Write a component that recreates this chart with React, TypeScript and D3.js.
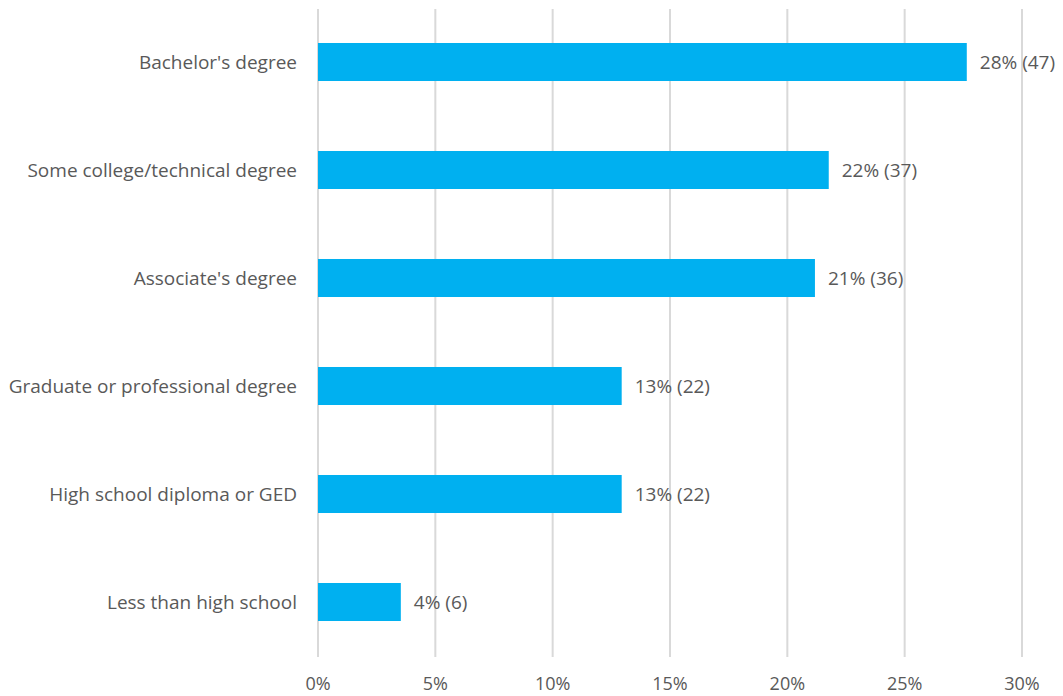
import React from "react";
import * as d3 from "d3";

const categories = [
  "Bachelor's degree",
  "Some college/technical degree",
  "Associate's degree",
  "Graduate or professional degree",
  "High school diploma or GED",
  "Less than high school",
];
const counts = [47, 37, 36, 22, 22, 6];
const total = 170;
const ticks = [0, 0.05, 0.1, 0.15, 0.2, 0.25, 0.3];

const W = 1063;
const H = 696;
const left = 318;
const right = 1022;
const top = 8;
const bottom = 656;
const font = "'Open Sans', sans-serif";
const fs = 19;

export default function App() {
  const x = d3.scaleLinear().domain([0, 0.3]).range([left, right]);
  const y = d3
    .scaleBand<string>()
    .domain(categories)
    .range([top, bottom])
    .paddingInner(0.648)
    .paddingOuter(0.324);
  const fmt = d3.format(".0%");
  return (
    <svg
      width={W}
      height={H}
      style={{ position: "absolute", left: 0, top: 0, background: "#fff" }}
    >
      {ticks.map((t) => (
        <g key={t}>
          <line
            x1={x(t)}
            x2={x(t)}
            y1={top + 1}
            y2={bottom + 1}
            stroke="#d9d9d9"
            strokeWidth={2}
          />
          <text
            x={x(t)}
            y={683}
            textAnchor="middle"
            dominantBaseline="central"
            fontFamily={font}
            fontSize={18}
            fill="#595959"
          >
            {fmt(t)}
          </text>
        </g>
      ))}
      {categories.map((c, i) => {
        const v = counts[i] / total;
        const yy = y(c)!;
        const bw = y.bandwidth();
        return (
          <g key={c}>
            <rect
              x={x(0)}
              y={yy}
              width={x(v) - x(0)}
              height={bw}
              fill="#00B0F0"
            />
            <text
              x={297}
              y={yy + bw / 2}
              textAnchor="end"
              dominantBaseline="central"
              fontFamily={font}
              fontSize={fs}
              fill="#595959"
            >
              {c}
            </text>
            <text
              x={x(v) + 13}
              y={yy + bw / 2}
              textAnchor="start"
              dominantBaseline="central"
              fontFamily={font}
              fontSize={fs}
              fill="#595959"
            >
              {`${fmt(v)} (${counts[i]})`}
            </text>
          </g>
        );
      })}
    </svg>
  );
}
